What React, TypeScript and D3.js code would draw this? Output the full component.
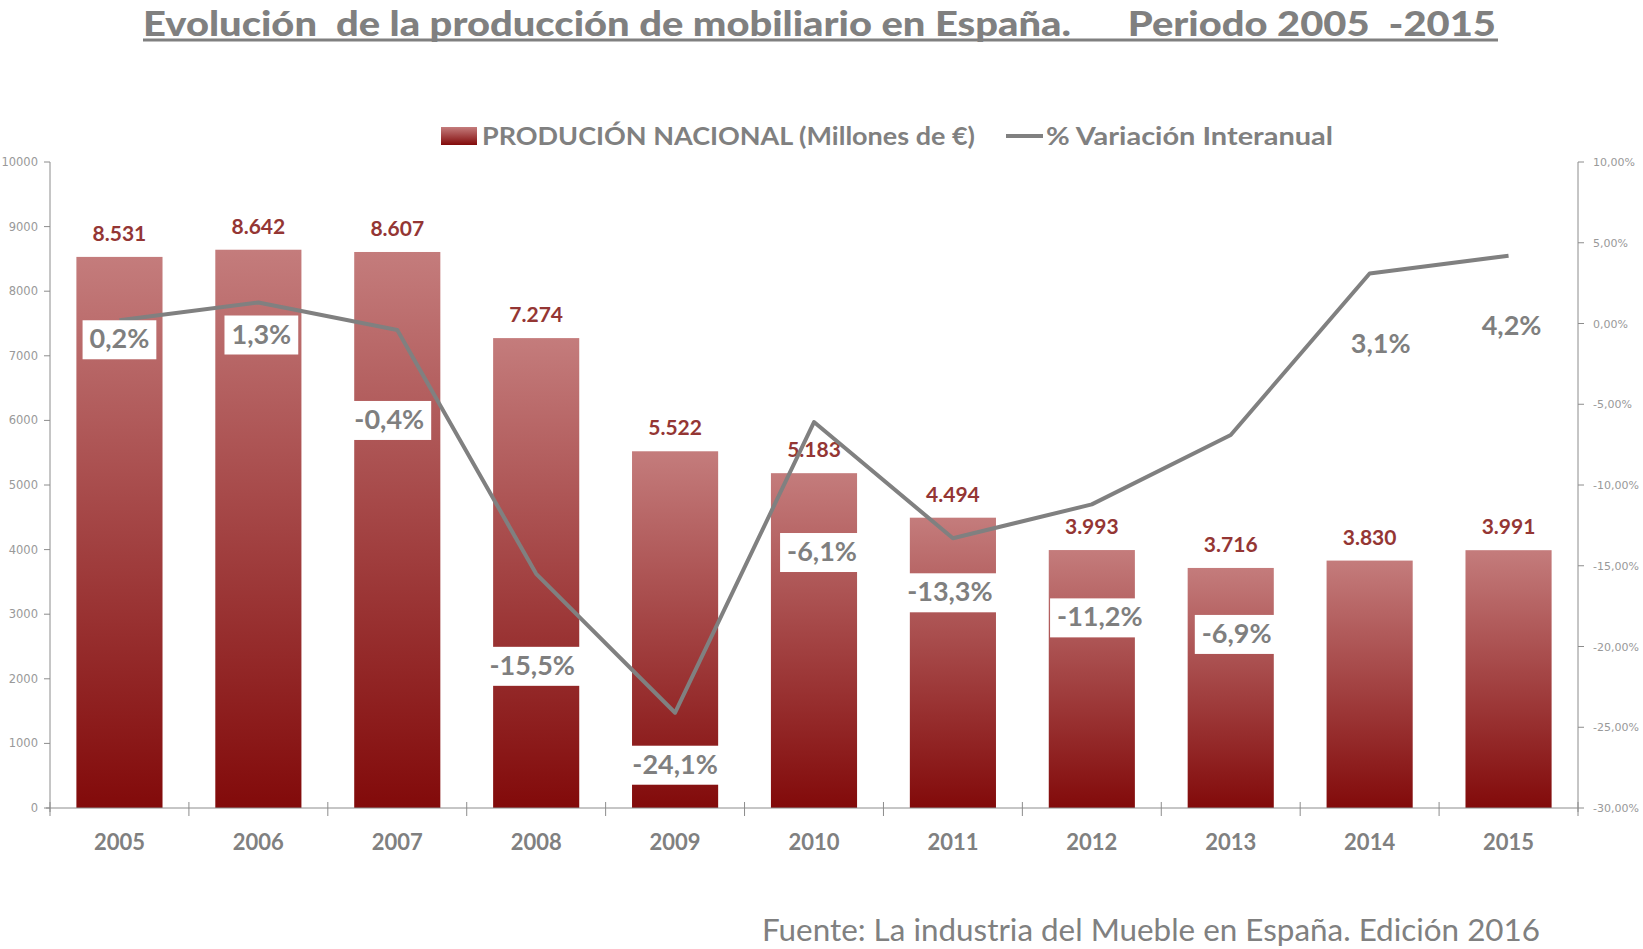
import React, { useEffect, useRef } from "react";
import * as d3 from "d3";

const years = ["2005", "2006", "2007", "2008", "2009", "2010", "2011", "2012", "2013", "2014", "2015"];
const produccion = [8531, 8642, 8607, 7274, 5522, 5183, 4494, 3993, 3716, 3830, 3991];
const variacion = [0.2, 1.3, -0.4, -15.5, -24.1, -6.1, -13.3, -11.2, -6.9, 3.1, 4.2];
const leftTicks = [0, 1000, 2000, 3000, 4000, 5000, 6000, 7000, 8000, 9000, 10000];
const rightTicks = [-30, -25, -20, -15, -10, -5, 0, 5, 10];

const TITLE = "Evolución  de la producción de mobiliario en España.      Periodo 2005  -2015";
const SOURCE = "Fuente: La industria del Mueble en España. Edición 2016";

// manual label placement (pixel offsets from the line point)
const labelOffsets: [number, number][] = [
  [0, 19], [3, 32], [-8, 90], [-4, 92], [0, 52], [8, 130], [-3, 54], [8, 113], [6, 199], [11, 71], [3, 70],
];

const W = 1643, H = 949;
const GRAY = "#808080";

export default function App() {
  const ref = useRef<SVGSVGElement>(null);
  useEffect(() => {
    const svg = d3.select(ref.current);
    svg.selectAll("*").remove();
    const left = 50, right = 1578, top = 162, bottom = 808;

    const defs = svg.append("defs");
    const grad = defs.append("linearGradient").attr("id", "barGrad").attr("x1", 0).attr("y1", 0).attr("x2", 0).attr("y2", 1);
    grad.append("stop").attr("offset", "0%").attr("stop-color", "#c47c7c");
    grad.append("stop").attr("offset", "100%").attr("stop-color", "#820a0a");

    const x = d3.scaleBand<string>().domain(years).range([left, right]).paddingInner(0.38).paddingOuter(0.19);
    const yL = d3.scaleLinear().domain([0, 10000]).range([bottom, top]);
    const yR = d3.scaleLinear().domain([-30, 10]).range([bottom, top]);

    // Title
    svg.append("text").attr("x", 143).attr("y", 35.5).attr("font-family", "Lato").attr("font-weight", 900)
      .attr("font-size", 35).attr("fill", GRAY).attr("textLength", 1353).attr("lengthAdjust", "spacingAndGlyphs")
      .style("white-space", "pre").text(TITLE);
    svg.append("rect").attr("x", 143).attr("y", 38.5).attr("width", 1355).attr("height", 3).attr("fill", GRAY);

    // Legend
    svg.append("rect").attr("x", 441).attr("y", 127).attr("width", 36).attr("height", 18).attr("fill", "url(#barGrad)");
    svg.append("text").attr("x", 482).attr("y", 145).attr("font-family", "Lato").attr("font-weight", 700)
      .attr("font-size", 25).attr("fill", GRAY).attr("textLength", 493).attr("lengthAdjust", "spacingAndGlyphs")
      .text("PRODUCIÓN NACIONAL (Millones de €)");
    svg.append("line").attr("x1", 1006).attr("x2", 1043).attr("y1", 136).attr("y2", 136).attr("stroke", GRAY).attr("stroke-width", 4);
    svg.append("text").attr("x", 1046).attr("y", 145).attr("font-family", "Lato").attr("font-weight", 700)
      .attr("font-size", 25).attr("fill", GRAY).attr("textLength", 287).attr("lengthAdjust", "spacingAndGlyphs")
      .text("% Variación Interanual");

    // Bars
    svg.append("g").selectAll("rect").data(years).join("rect")
      .attr("x", (d) => x(d)!).attr("width", x.bandwidth())
      .attr("y", (d, i) => yL(produccion[i])).attr("height", (d, i) => bottom - yL(produccion[i]))
      .attr("fill", "url(#barGrad)");

    // Axes
    const axisColor = "#8c8c8c";
    const ax = svg.append("g");
    ax.append("line").attr("x1", left).attr("x2", left).attr("y1", top).attr("y2", bottom + 4).attr("stroke", axisColor);
    ax.append("line").attr("x1", right).attr("x2", right).attr("y1", top).attr("y2", bottom + 4).attr("stroke", axisColor);
    ax.append("line").attr("x1", left - 4).attr("x2", right).attr("y1", bottom).attr("y2", bottom).attr("stroke", axisColor);
    leftTicks.forEach((t) => {
      ax.append("line").attr("x1", left - 6).attr("x2", left).attr("y1", yL(t)).attr("y2", yL(t)).attr("stroke", axisColor);
      ax.append("text").attr("x", 38).attr("y", yL(t) + 4).attr("text-anchor", "end").attr("font-family", "DejaVu Sans")
        .attr("font-size", 11.5).attr("fill", "#999").text(String(t));
    });
    rightTicks.forEach((t) => {
      ax.append("line").attr("x1", right).attr("x2", right + 6).attr("y1", yR(t)).attr("y2", yR(t)).attr("stroke", axisColor);
      ax.append("text").attr("x", 1593).attr("y", yR(t) + 4).attr("font-family", "DejaVu Sans")
        .attr("font-size", 11).attr("fill", "#999").text(t.toFixed(2).replace(".", ",") + "%");
    });
    const step = x.step();
    for (let i = 0; i <= years.length; i++) {
      const xx = left + i * step;
      ax.append("line").attr("x1", xx).attr("x2", xx).attr("y1", bottom - 6).attr("y2", bottom + 8).attr("stroke", axisColor);
    }
    years.forEach((yv) => {
      ax.append("text").attr("x", x(yv)! + x.bandwidth() / 2).attr("y", 850).attr("text-anchor", "middle")
        .attr("font-family", "Lato").attr("font-weight", 700).attr("font-size", 22).attr("fill", GRAY).text(yv);
    });

    // Bar value labels
    svg.append("g").selectAll("text").data(years).join("text")
      .attr("x", (d) => x(d)! + x.bandwidth() / 2).attr("y", (d, i) => yL(produccion[i]) - 16)
      .attr("text-anchor", "middle").attr("font-family", "Lato").attr("font-weight", 700).attr("font-size", 21)
      .attr("fill", "#943634").text((d, i) => d3.format(",")(produccion[i]).replace(/,/g, "."));

    // Line
    const line = d3.line<number>().x((d, i) => x(years[i])! + x.bandwidth() / 2).y((d) => yR(d));
    svg.append("path").datum(variacion).attr("d", line).attr("fill", "none").attr("stroke", GRAY)
      .attr("stroke-width", 4).attr("stroke-linejoin", "round");

    // Percent labels
    const lg = svg.append("g");
    variacion.forEach((v, i) => {
      const cx = x(years[i])! + x.bandwidth() / 2 + labelOffsets[i][0];
      const cy = yR(v) + labelOffsets[i][1];
      const g = lg.append("g");
      const rect = g.append("rect").attr("fill", "#fff");
      const t = g.append("text").attr("x", cx).attr("y", cy + 9).attr("text-anchor", "middle")
        .attr("font-family", "Lato").attr("font-weight", 700).attr("font-size", 27).attr("fill", "#7f7f7f")
        .text(v.toFixed(1).replace(".", ",") + "%");
      const bb = (t.node() as SVGTextElement).getBBox();
      rect.attr("x", bb.x - 7).attr("width", bb.width + 14).attr("y", cy - 19).attr("height", 39);
    });

    // Source
    svg.append("text").attr("x", 762).attr("y", 941).attr("font-family", "Lato").attr("font-size", 31)
      .attr("fill", GRAY).attr("textLength", 778).attr("lengthAdjust", "spacingAndGlyphs").text(SOURCE);
  }, []);

  return (
    <svg ref={ref} width={W} height={H} style={{ position: "absolute", left: 0, top: 0, background: "#fff" }} />
  );
}
